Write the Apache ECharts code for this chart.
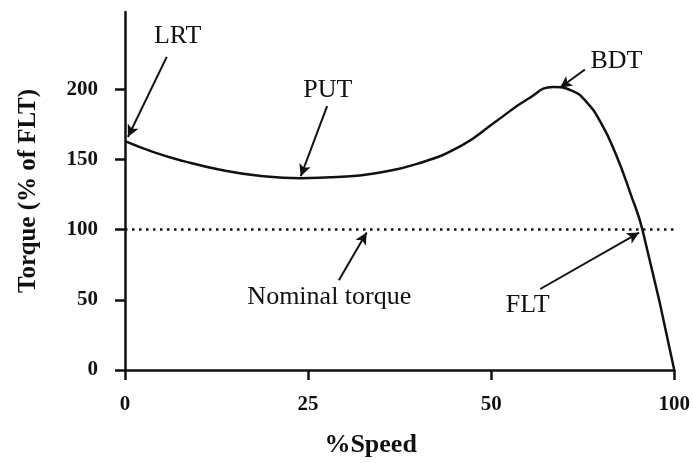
<!DOCTYPE html>
<html>
<head>
<meta charset="utf-8">
<script src="https://cdn.jsdelivr.net/npm/echarts@6/dist/echarts.min.js"></script>
<style>
  html, body { margin: 0; padding: 0; background: #fff; }
  #chart { width: 693px; height: 463px; }
</style>
</head>
<body>
<div id="chart"></div>
<script>
// x is in axis position units: ticks are equally spaced and labelled 0, 25, 50, 100
var xTickLabels = ['0', '25', '50', '100']
var yTickValues = [0, 50, 100, 150, 200]

// torque-speed curve (% of FLT)
var curveX = [0, 4, 8, 13, 18, 24, 29, 34, 40, 46, 50.5, 55, 58.5, 61, 63, 65, 67, 69, 70.7, 75]
var curveY = [163, 155, 148.8, 142.6, 138.6, 136.6, 137.4, 140, 147, 160, 176.5, 193, 201.5, 199, 191, 176, 154, 126, 99, 0]

// nominal torque level (dotted)
var nominalX = [0, 76.2]
var nominalY = [100, 100]

// annotations: label text, label position, arrow start, arrow tip
var noteNames = ['LRT', 'PUT', 'BDT', 'Nominal torque', 'FLT']
var noteTextPos = [[7.2, 238], [27.7, 199], [67.1, 220], [27.9, 52], [55.0, 46.5]]
var arrowFrom = [[5.7, 223], [27.6, 188], [62.8, 214], [29.2, 64], [56.7, 57.7]]
var arrowTo = [[0.4, 166], [24.0, 138], [59.4, 201], [33.0, 98], [70.2, 97.9]]

var chart = echarts.init(document.getElementById('chart'))

var serif = '"Liberation Serif", "Times New Roman", serif'

var curveData = curveX.map(function (x, i) { return [x, curveY[i]] })
var nominalData = nominalX.map(function (x, i) { return [x, nominalY[i]] })

var arrowLines = arrowFrom.map(function (p, i) {
  return [{ coord: p }, { coord: arrowTo[i] }]
})
var notePoints = noteNames.map(function (n, i) {
  return { name: n, coord: noteTextPos[i] }
})

var option = {
  animation: false,
  backgroundColor: '#fff',
  grid: { left: 125, right: 16, top: 12, bottom: 89 },
  xAxis: {
    type: 'value',
    min: 0,
    max: 75,
    interval: 25,
    name: '%Speed',
    nameLocation: 'middle',
    nameGap: 62,
    nameTextStyle: { fontFamily: serif, fontWeight: 'bold', fontSize: 26, color: '#111', padding: [0, 58, 0, 0] },
    splitLine: { show: false },
    axisLine: { onZero: false, lineStyle: { color: '#111', width: 2.5 } },
    axisTick: { inside: false, length: 10, lineStyle: { color: '#111', width: 2.5 } },
    axisLabel: {
      margin: 24,
      fontFamily: serif,
      fontWeight: 'bold',
      fontSize: 21,
      color: '#111',
      formatter: function (v) { return xTickLabels[Math.round(v / 25)] }
    }
  },
  yAxis: {
    type: 'value',
    min: 0,
    max: 255,
    name: 'Torque (% of FLT)',
    nameLocation: 'middle',
    nameGap: 84,
    nameTextStyle: { fontFamily: serif, fontWeight: 'bold', fontSize: 25, color: '#111' },
    splitLine: { show: false },
    axisLine: { show: true, lineStyle: { color: '#111', width: 2.5 } },
    axisTick: { show: true, length: 10, customValues: yTickValues, lineStyle: { color: '#111', width: 2.5 } },
    axisLabel: {
      margin: 27,
      customValues: yTickValues,
      fontFamily: serif,
      fontWeight: 'bold',
      fontSize: 21,
      color: '#111'
    }
  },
  series: [
    {
      name: 'Torque',
      type: 'line',
      data: curveData,
      smooth: 0.5,
      showSymbol: false,
      lineStyle: { color: '#111', width: 2.5 },
      markLine: {
        silent: true,
        symbol: ['none', 'arrow'],
        symbolSize: [9, 12],
        lineStyle: { color: '#111', width: 2, type: 'solid' },
        label: { show: false },
        data: arrowLines
      },
      markPoint: {
        silent: true,
        symbol: 'circle',
        symbolSize: 0,
        label: {
          show: true,
          position: 'inside',
          formatter: '{b}',
          fontFamily: serif,
          fontSize: 26,
          color: '#111'
        },
        data: notePoints
      }
    },
    {
      name: 'Nominal torque',
      type: 'line',
      data: nominalData,
      clip: false,
      showSymbol: false,
      lineStyle: { color: '#111', width: 2.5, type: [2.5, 4.5] }
    }
  ]
}

chart.setOption(option)
</script>
</body>
</html>
